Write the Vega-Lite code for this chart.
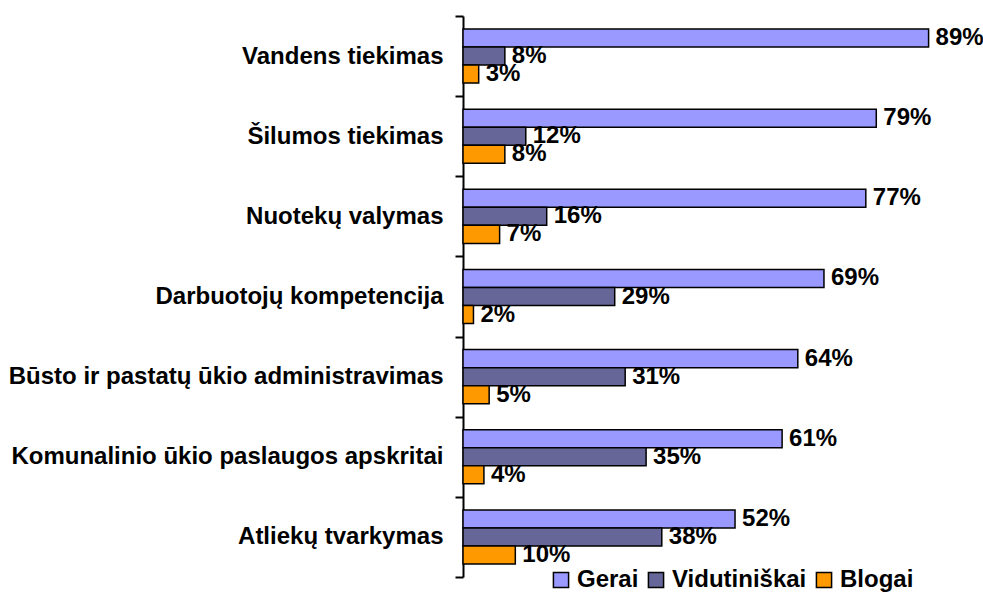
{
  "$schema": "https://vega.github.io/schema/vega-lite/v6.json",
  "autosize": {"type": "none"},
  "padding": {"left": 463, "top": 16, "right": 0, "bottom": 16},
  "width": 520,
  "height": 561,
  "background": "white",
  "config": {"view": {"stroke": null}, "font": "Liberation Sans"},
  "data": {"values": [
    {"cat": "Vandens tiekimas", "series": "Gerai", "value": 0.89},
    {"cat": "Vandens tiekimas", "series": "Vidutiniškai", "value": 0.08},
    {"cat": "Vandens tiekimas", "series": "Blogai", "value": 0.03},
    {"cat": "Šilumos tiekimas", "series": "Gerai", "value": 0.79},
    {"cat": "Šilumos tiekimas", "series": "Vidutiniškai", "value": 0.12},
    {"cat": "Šilumos tiekimas", "series": "Blogai", "value": 0.08},
    {"cat": "Nuotekų valymas", "series": "Gerai", "value": 0.77},
    {"cat": "Nuotekų valymas", "series": "Vidutiniškai", "value": 0.16},
    {"cat": "Nuotekų valymas", "series": "Blogai", "value": 0.07},
    {"cat": "Darbuotojų kompetencija", "series": "Gerai", "value": 0.69},
    {"cat": "Darbuotojų kompetencija", "series": "Vidutiniškai", "value": 0.29},
    {"cat": "Darbuotojų kompetencija", "series": "Blogai", "value": 0.02},
    {"cat": "Būsto ir pastatų ūkio administravimas", "series": "Gerai", "value": 0.64},
    {"cat": "Būsto ir pastatų ūkio administravimas", "series": "Vidutiniškai", "value": 0.31},
    {"cat": "Būsto ir pastatų ūkio administravimas", "series": "Blogai", "value": 0.05},
    {"cat": "Komunalinio ūkio paslaugos apskritai", "series": "Gerai", "value": 0.61},
    {"cat": "Komunalinio ūkio paslaugos apskritai", "series": "Vidutiniškai", "value": 0.35},
    {"cat": "Komunalinio ūkio paslaugos apskritai", "series": "Blogai", "value": 0.04},
    {"cat": "Atliekų tvarkymas", "series": "Gerai", "value": 0.52},
    {"cat": "Atliekų tvarkymas", "series": "Vidutiniškai", "value": 0.38},
    {"cat": "Atliekų tvarkymas", "series": "Blogai", "value": 0.10}
  ]},
  "encoding": {
    "y": {
      "field": "cat", "type": "nominal", "sort": null, "title": null,
      "scale": {"paddingInner": 0, "paddingOuter": 0},
      "axis": {
        "tickBand": "extent", "domainColor": "black", "domainWidth": 2,
        "tickColor": "black", "tickWidth": 2, "tickSize": 8,
        "labelFontSize": 24, "labelFontWeight": "bold", "labelColor": "black",
        "labelPadding": 12, "labelLimit": 500
      }
    },
    "yOffset": {
      "field": "series", "type": "nominal",
      "sort": ["Gerai", "Vidutiniškai", "Blogai"],
      "scale": {"paddingInner": 0, "paddingOuter": 0.722}
    },
    "x": {
      "field": "value", "type": "quantitative",
      "scale": {"domain": [0, 0.994]},
      "axis": null
    }
  },
  "layer": [
    {
      "mark": {"type": "bar", "stroke": "black", "strokeWidth": 1.5},
      "encoding": {
        "color": {
          "field": "series", "type": "nominal",
          "sort": ["Gerai", "Vidutiniškai", "Blogai"],
          "scale": {"domain": ["Gerai", "Vidutiniškai", "Blogai"], "range": ["#9999FF", "#666699", "#FF9900"]},
          "legend": {
            "title": null, "orient": "none", "direction": "horizontal",
            "legendX": 83, "legendY": 549,
            "fillColor": "white", "padding": 3,
            "symbolType": "square", "symbolSize": 230, "symbolStrokeColor": "black",
            "symbolStrokeWidth": 1.5, "symbolOpacity": 1,
            "labelFontSize": 24, "labelFontWeight": "bold", "labelColor": "black",
            "labelOffset": 4, "columnPadding": 5, "labelLimit": 300
          }
        }
      }
    },
    {
      "mark": {"type": "text", "align": "left", "baseline": "middle", "dx": 7, "fontSize": 24, "fontWeight": "bold", "color": "black"},
      "encoding": {
        "text": {"field": "value", "type": "quantitative", "format": ".0%"}
      }
    }
  ]
}
